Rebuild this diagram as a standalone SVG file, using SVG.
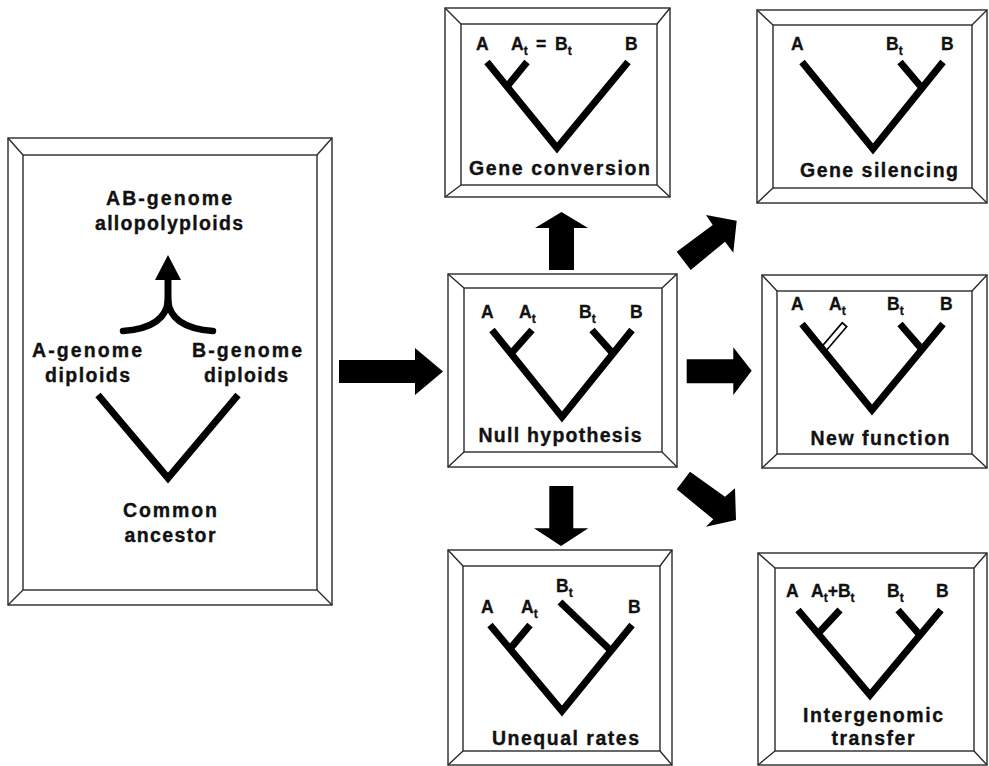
<svg xmlns="http://www.w3.org/2000/svg" width="989" height="766" viewBox="0 0 989 766">
<defs>
<style>
.frame{fill:#fff;stroke:#2a2a2a;stroke-width:1.4}
.bev{fill:none;stroke:#2a2a2a;stroke-width:1.4}
.tree{fill:none;stroke:#000;stroke-width:7;stroke-linecap:butt;stroke-linejoin:miter}
.arr{fill:#000;stroke:none}
.t{font-family:"Liberation Sans",Arial,Helvetica,sans-serif;font-weight:bold;font-size:19.5px;fill:#111;stroke:#111;stroke-width:0.35;text-anchor:middle}
.l{font-family:"Liberation Sans",Arial,Helvetica,sans-serif;font-weight:bold;font-size:17.5px;fill:#111;stroke:#111;stroke-width:0.3}
.s{font-size:12px}
</style>
</defs>
<rect width="989" height="766" fill="#fff"/>

<g id="ancestral">
<rect class="frame" x="8" y="138" width="324" height="467"/>
<rect class="frame" x="23" y="155" width="294" height="435"/>
<path class="bev" d="M8 138L23 155M332 138L317 155M8 605L23 590M332 605L317 590"/>
<text class="t" x="169" y="205" textLength="126" lengthAdjust="spacing">AB-genome</text>
<text class="t" x="169" y="230" textLength="148" lengthAdjust="spacing">allopolyploids</text>
<polygon class="arr" points="168,255 181,280 155,280"/>
<path d="M168,304 L168,278" fill="none" stroke="#000" stroke-width="7"/>
<path d="M123,331 Q166,328 168,300 M213,331 Q170,328 168,300" fill="none" stroke="#000" stroke-width="6.5" stroke-linecap="round"/>
<text class="t" x="87" y="357" textLength="110" lengthAdjust="spacing">A-genome</text>
<text class="t" x="87.5" y="382" textLength="85" lengthAdjust="spacing">diploids</text>
<text class="t" x="247" y="357" textLength="110" lengthAdjust="spacing">B-genome</text>
<text class="t" x="246" y="382" textLength="84" lengthAdjust="spacing">diploids</text>
<polyline class="tree" points="98,395 168,478 238,395"/>
<text class="t" x="170" y="517" textLength="94" lengthAdjust="spacing">Common</text>
<text class="t" x="170" y="542" textLength="91" lengthAdjust="spacing">ancestor</text>
</g>

<g id="null-hypothesis">
<rect class="frame" x="448" y="274" width="229" height="193"/>
<rect class="frame" x="464" y="288" width="198" height="164"/>
<path class="bev" d="M448 274L464 288M677 274L662 288M448 467L464 452M677 467L662 452"/>
<polyline class="tree" points="492,330 562,417 632,330"/>
<line class="tree" x1="532" y1="330" x2="511" y2="353.6"/>
<line class="tree" x1="592" y1="330" x2="613" y2="353.6"/>
<text class="l" x="481" y="318">A</text>
<text class="l" x="519" y="318">A<tspan class="s" dy="5">t</tspan></text>
<text class="l" x="579" y="318">B<tspan class="s" dy="5">t</tspan></text>
<text class="l" x="630" y="318">B</text>
<text class="t" x="560" y="442" textLength="163" lengthAdjust="spacing">Null  hypothesis</text>
</g>

<g id="gene-conversion">
<rect class="frame" x="445" y="8" width="225" height="189"/>
<rect class="frame" x="461" y="24" width="196" height="161"/>
<path class="bev" d="M445 8L461 24M670 8L657 24M445 197L461 185M670 197L657 185"/>
<polyline class="tree" points="487,62 557,148 628,62"/>
<line class="tree" x1="527" y1="62" x2="507" y2="86.6"/>
<text class="l" x="476" y="50">A</text>
<text class="l" y="50"><tspan x="511">A</tspan><tspan class="s" dy="5">t</tspan><tspan x="536" dy="-5">=</tspan><tspan x="555">B</tspan><tspan class="s" dy="5">t</tspan></text>
<text class="l" x="625" y="50">B</text>
<text class="t" x="559.5" y="175" textLength="181" lengthAdjust="spacing">Gene  conversion</text>
</g>

<g id="gene-silencing">
<rect class="frame" x="757" y="10" width="230" height="193"/>
<rect class="frame" x="773" y="25" width="199" height="163"/>
<path class="bev" d="M757 10L773 25M987 10L972 25M757 203L773 188M987 203L972 188"/>
<polyline class="tree" points="802,62 873,149 943,62"/>
<line class="tree" x1="900" y1="62" x2="922" y2="88.1"/>
<text class="l" x="791" y="50">A</text>
<text class="l" x="886" y="50">B<tspan class="s" dy="5">t</tspan></text>
<text class="l" x="941" y="50">B</text>
<text class="t" x="879" y="177" textLength="158" lengthAdjust="spacing">Gene  silencing</text>
</g>

<g id="new-function">
<rect class="frame" x="762" y="275" width="225" height="193"/>
<rect class="frame" x="777" y="291" width="195" height="163"/>
<path class="bev" d="M762 275L777 291M987 275L972 291M762 468L777 454M987 468L972 454"/>
<line x1="845" y1="324" x2="823" y2="349.8" stroke="#000" stroke-width="7.5"/>
<line x1="843.9" y1="325.3" x2="823" y2="349.8" stroke="#fff" stroke-width="4.3"/>
<polyline class="tree" points="802,324 872,410 943,324"/>
<line class="tree" x1="900" y1="324" x2="922" y2="349.4"/>
<text class="l" x="791" y="310">A</text>
<text class="l" x="829" y="310">A<tspan class="s" dy="5">t</tspan></text>
<text class="l" x="887" y="310">B<tspan class="s" dy="5">t</tspan></text>
<text class="l" x="940" y="310">B</text>
<text class="t" x="880" y="445" textLength="139" lengthAdjust="spacing">New  function</text>
</g>

<g id="unequal-rates">
<rect class="frame" x="448" y="550" width="224" height="215"/>
<rect class="frame" x="463" y="566" width="197" height="185"/>
<path class="bev" d="M448 550L463 566M672 550L660 566M448 765L463 751M672 765L660 751"/>
<polyline class="tree" points="490,625 562,711 632,625"/>
<line class="tree" x1="530" y1="625" x2="510" y2="648.9"/>
<line class="tree" x1="560" y1="602" x2="611" y2="650.8"/>
<text class="l" x="481" y="613">A</text>
<text class="l" x="521" y="613">A<tspan class="s" dy="5">t</tspan></text>
<text class="l" x="556" y="592">B<tspan class="s" dy="5">t</tspan></text>
<text class="l" x="628" y="613">B</text>
<text class="t" x="565.5" y="745" textLength="147" lengthAdjust="spacing">Unequal  rates</text>
</g>

<g id="intergenomic-transfer">
<rect class="frame" x="758" y="553" width="229" height="212"/>
<rect class="frame" x="775" y="568" width="199" height="183"/>
<path class="bev" d="M758 553L775 568M987 553L974 568M758 765L775 751M987 765L974 751"/>
<polyline class="tree" points="798,610 870,695 941,610"/>
<line class="tree" x1="840" y1="610" x2="818" y2="633.6"/>
<line class="tree" x1="898" y1="610" x2="920" y2="635.1"/>
<text class="l" x="786" y="597">A</text>
<text class="l" y="597"><tspan x="811">A</tspan><tspan class="s" dy="5">t</tspan><tspan dy="-5">+</tspan><tspan>B</tspan><tspan class="s" dy="5">t</tspan></text>
<text class="l" x="887" y="597">B<tspan class="s" dy="5">t</tspan></text>
<text class="l" x="936" y="597">B</text>
<text class="t" x="873" y="722" textLength="140" lengthAdjust="spacing">Intergenomic</text>
<text class="t" x="873" y="745" textLength="83" lengthAdjust="spacing">transfer</text>
</g>

<g id="connectors">
<polygon class="arr" points="339,360 415,360 415,348 443,371.5 415,395 415,383 339,383"/>
<polygon class="arr" points="549,270 549,228 535,228 561.5,212 588,228 574,228 574,270"/>
<polygon class="arr" points="549.3,486 573.3,486 573.3,528.3 588.3,528.3 561,546 534,528.3 549.3,528.3"/>
<polygon class="arr" points="686.7,359.3 733.3,359.3 733.3,347.3 751.7,370.7 733.3,395 733.3,383.3 686.7,383.3"/>
<polygon class="arr" points="676.7,251.7 712.7,225 706,215 736.7,220.7 733.3,252.7 725,241.7 690.7,270"/>
<polygon class="arr" points="690,471.7 725,496.7 735,488.3 736,520 706,526.7 713.3,519.3 676.7,489.3"/>
</g>
</svg>
